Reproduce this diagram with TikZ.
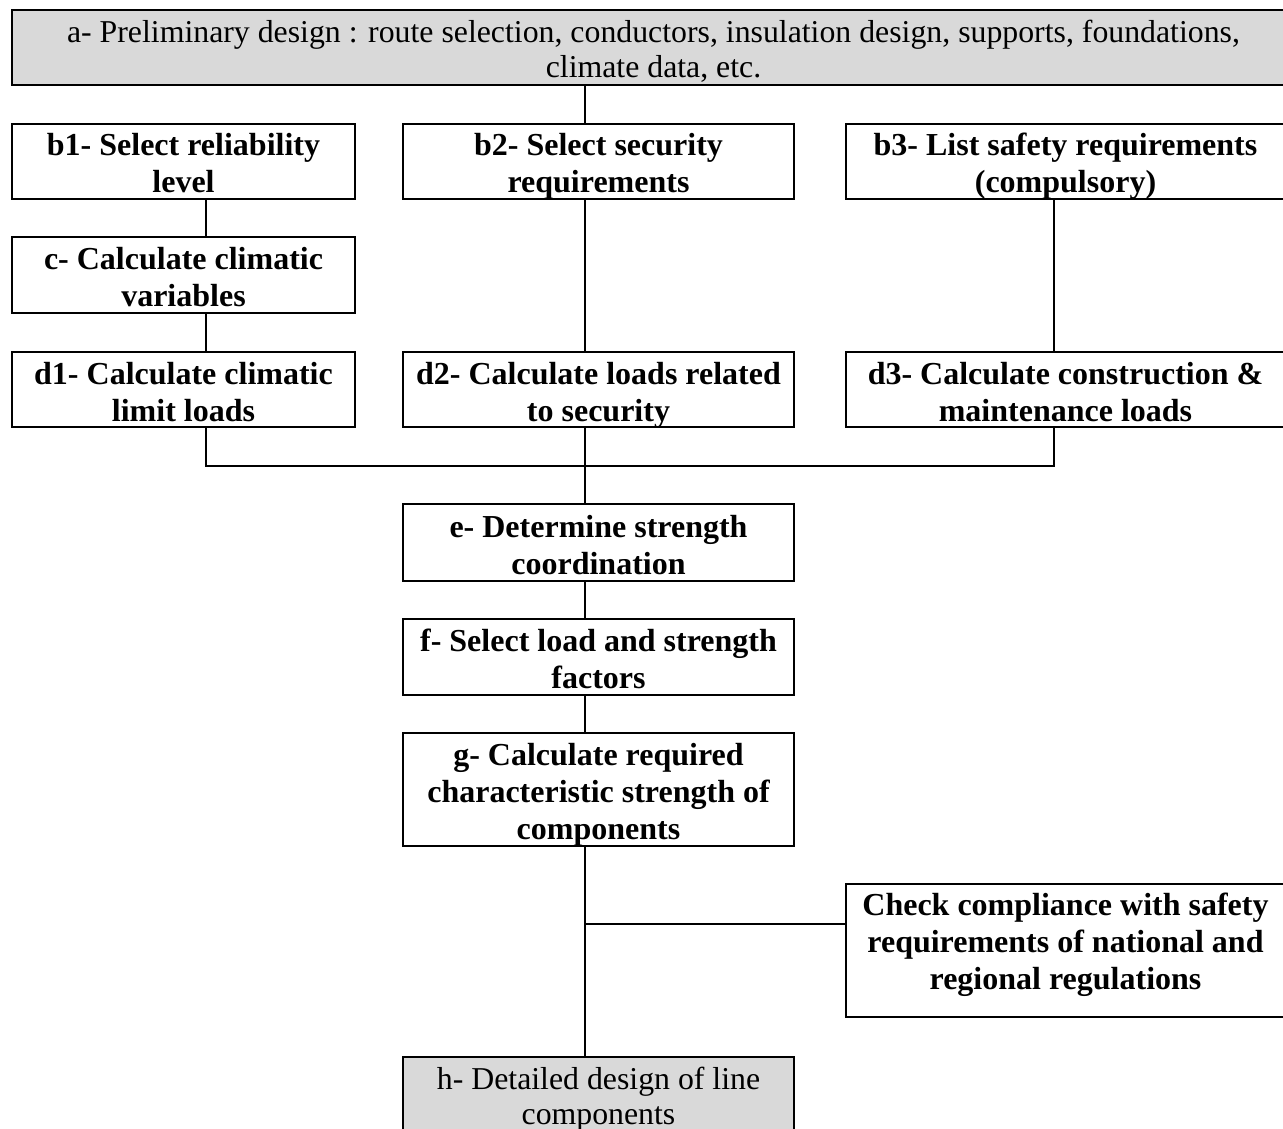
\documentclass[tikz,border=0pt]{standalone}
\usepackage{fontspec}
\setmainfont{Liberation Serif}
\definecolor{boxgray}{RGB}{217,217,217}
\tikzset{
	stepbox/.style={draw, line width=2pt, align=center, inner sep=0pt,
		text height=63pt, text depth=0pt,
		font=\fontsize{32}{37}\selectfont\bfseries},
	threeline/.style={text height=100pt},
	greybox/.style={stepbox, fill=boxgray, text height=59.5pt,
		font=\fontsize{31.8}{35}\selectfont},
	link/.style={line width=2pt}
}

\begin{document}
\begin{tikzpicture}[x=1pt, y=-1pt]
	\useasboundingbox (0,0) rectangle (1283,1129);
	\node[greybox, minimum width=1283, minimum height=75] (a) at (653.5,47.5)
		{a- Preliminary design : route selection, conductors, insulation design, supports, foundations,\\ climate data, etc.};
	\node[stepbox, minimum width=343, minimum height=75] (b1) at (183.5,161.5) {b1- Select reliability\\ level};
	\node[stepbox, minimum width=391, minimum height=75] (b2) at (598.5,161.5) {b2- Select security\\ requirements};
	\node[stepbox, minimum width=439, minimum height=75] (b3) at (1065.5,161.5) {b3- List safety requirements\\ (compulsory)};
	\node[stepbox, minimum width=343, minimum height=76] (c) at (183.5,275) {c- Calculate climatic\\ variables};
	\node[stepbox, minimum width=343, minimum height=75] (d1) at (183.5,389.5) {d1- Calculate climatic\\ limit loads};
	\node[stepbox, minimum width=391, minimum height=75] (d2) at (598.5,389.5) {d2- Calculate loads related\\ to security};
	\node[stepbox, minimum width=439, minimum height=75] (d3) at (1065.5,389.5) {d3- Calculate construction \&\\ maintenance loads};
	\node[stepbox, minimum width=391, minimum height=77] (e) at (598.5,542.5) {e- Determine strength\\ coordination};
	\node[stepbox, minimum width=391, minimum height=76] (f) at (598.5,657) {f- Select load and strength\\ factors};
	\node[stepbox, threeline, minimum width=391, minimum height=113] (g) at (598.5,789.5) {g- Calculate required\\ characteristic strength of\\ components};
	\node[stepbox, text height=78pt, minimum width=439, minimum height=133] (check) at (1065.5,950.5) {Check compliance with safety\\ requirements of national and\\ regional regulations};
	\node[greybox, minimum width=391, minimum height=75] (h) at (598.5,1094.5) {h- Detailed design of line\\ components};
	\coordinate (colA) at (206,0);
	\coordinate (colB) at (585,0);
	\coordinate (colC) at (1054,0);
	\coordinate (join) at (585,466);
	\coordinate (tee) at (585,924);
	\draw[link] (a.south -| colB) -- (b2.north -| colB);
	\draw[link] (b1.south -| colA) -- (c.north -| colA);
	\draw[link] (c.south -| colA) -- (d1.north -| colA);
	\draw[link] (b2.south -| colB) -- (d2.north -| colB);
	\draw[link] (b3.south -| colC) -- (d3.north -| colC);
	\draw[link] (d1.south -| colA) -- (join -| colA) -- (join -| colC) -- (d3.south -| colC);
	\draw[link] (d2.south -| colB) -- (e.north -| colB);
	\draw[link] (e.south -| colB) -- (f.north -| colB);
	\draw[link] (f.south -| colB) -- (g.north -| colB);
	\draw[link] (g.south -| colB) -- (h.north -| colB);
	\draw[link] (tee) -- (check.west |- tee);
\end{tikzpicture}
\end{document}
